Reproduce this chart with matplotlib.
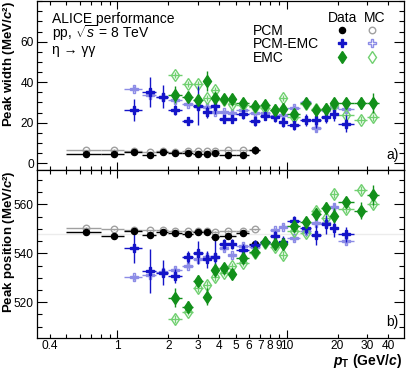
import numpy as np
import matplotlib
matplotlib.use("Agg")
import matplotlib.pyplot as plt
from matplotlib.ticker import MultipleLocator, NullFormatter

plt.rcParams['font.family'] = ['Liberation Sans', 'DejaVu Sans']
plt.rcParams['mathtext.fontset'] = 'custom'
plt.rcParams['mathtext.rm'] = 'Liberation Sans'
plt.rcParams['mathtext.it'] = 'Liberation Sans:italic'
plt.rcParams['mathtext.bf'] = 'Liberation Sans:bold'
plt.rcParams['mathtext.bfit'] = 'Liberation Sans:italic:bold'

# ---------------- data ----------------
pcm_edges = [0.5, 0.8, 1.1, 1.4, 1.7, 2.0, 2.4, 2.8, 3.2, 3.6, 4.0, 5.0, 6.0, 7.0]
pcm_width_data = [4.6, 4.75, 5.7, 4.1, 5.6, 4.9, 5.2, 4.75, 4.6, 4.9, 4.1, 4.1, 6.6]
pcm_width_data_err = [0.4, 0.4, 0.4, 0.4, 0.4, 0.4, 0.4, 0.4, 0.4, 0.4, 0.4, 0.5, 1.8]
pcm_width_mc = [6.6, 6.7, 6.0, 5.6, 6.0, 5.6, 5.9, 6.0, 6.0, 6.0, 6.6, 6.4, 6.5]
pcm_width_mc_err = [0.2] * 13
pcm_mass_data = [548.6, 547.2, 549.1, 547.6, 548.7, 548.4, 548.0, 548.6, 548.6, 546.5, 547.1, 548.4, 543.7]
pcm_mass_data_err = [0.4, 0.4, 0.4, 0.4, 0.4, 0.4, 0.4, 0.4, 0.4, 0.5, 0.5, 0.6, 1.5]
pcm_mass_mc = [550.5, 549.9, 549.4, 549.5, 549.4, 549.3, 549.1, 549.1, 549.0, 548.7, 549.3, 548.9, 549.8]
pcm_mass_mc_err = [0.2] * 13

pcmemc_edges = [1.1, 1.4, 1.7, 2.0, 2.4, 2.8, 3.2, 3.6, 4.0, 4.5, 5.0, 6.0, 7.0, 8.0, 9.0,
                10.0, 12.0, 14.0, 16.0, 18.0, 20.0, 25.0]
pcmemc_width_data = [26.2, 35.3, 32.8, 26.2, 20.9, 28.5, 25.3, 28.2, 21.7, 21.7, 24.1,
                     21.0, 23.3, 22.6, 20.5, 19.1, 21.2, 21.6, 22.7, 24.5, 19.6]
pcmemc_width_data_err = [5.5, 7.4, 5.7, 2.5, 2.0, 9.5, 3.0, 3.7, 2.0, 2.0, 2.0,
                         2.5, 2.0, 2.0, 2.5, 2.5, 3.0, 4.0, 3.0, 3.5, 4.0]
pcmemc_width_mc = [36.8, 33.5, 32.5, 31.4, 29.5, 28.3, 28.0, 25.5, 25.3, 25.0, 26.2,
                   24.9, 25.0, 23.5, 24.0, 27.4, 30.2, 17.3, 26.2, 27.8, 26.6]
pcmemc_width_mc_err = [1.2, 1.2, 1.2, 1.2, 1.2, 1.2, 1.2, 1.2, 1.2, 1.2, 1.2,
                       1.2, 1.2, 1.2, 1.2, 1.5, 1.5, 2.0, 1.5, 1.5, 1.5]
pcmemc_mass_data = [542.0, 532.9, 532.1, 530.7, 538.6, 540.3, 537.6, 538.6, 543.7, 543.7, 541.2,
                    543.3, 544.8, 547.2, 544.4, 553.2, 550.5, 547.5, 551.8, 550.5, 547.8]
pcmemc_mass_data_err = [6.0, 9.0, 5.0, 3.0, 2.5, 4.8, 3.5, 7.0, 2.0, 2.0, 2.5,
                        2.0, 2.0, 2.0, 2.5, 2.0, 2.5, 4.0, 4.0, 4.0, 3.0]
pcmemc_mass_mc = [530.2, 531.2, 532.4, 533.2, 535.0, 537.7, 538.6, 538.4, 542.0, 539.3, 543.1,
                  542.5, 544.1, 549.5, 550.9, 546.1, 549.3, 552.2, 552.2, 559.0, 545.2]
pcmemc_mass_mc_err = [1.0, 1.0, 1.0, 1.0, 1.0, 1.0, 1.0, 1.0, 1.0, 1.0, 1.0,
                      1.0, 1.0, 1.0, 1.0, 1.2, 1.2, 1.5, 1.5, 1.5, 1.5]

emc_edges = [2.0, 2.4, 2.8, 3.2, 3.6, 4.0, 4.5, 5.0, 6.0, 7.0, 8.0, 9.0, 10.0,
             12.0, 14.0, 16.0, 18.0, 20.0, 25.0, 30.0, 35.0]
emc_width_data = [33.9, 32.5, 31.1, 40.6, 32.0, 31.8, 31.6, 29.8, 28.2, 29.0, 26.4, 27.0,
                  24.1, 29.8, 26.2, 26.6, 29.8, 29.8, 29.8, 29.8]
emc_width_data_err = [4.0, 2.0, 2.0, 5.0, 1.5, 1.5, 1.5, 1.5, 1.5, 1.5, 1.5, 1.8,
                      2.0, 2.0, 2.0, 2.0, 2.0, 2.5, 3.0, 5.0]
emc_width_mc = [43.4, 39.0, 39.0, 32.0, 36.2, 31.0, 29.5, 29.0, 28.0, 27.5, 26.5, 32.3,
                23.0, 29.5, 27.0, 27.0, 29.0, 24.0, 21.6, 22.6]
emc_width_mc_err = [1.5] * 20
emc_mass_data = [521.9, 518.2, 528.7, 522.3, 533.2, 534.1, 531.4, 538.0, 540.4, 544.4, 543.7,
                 543.7, 551.2, 552.7, 556.1, 558.6, 555.4, 560.8, 557.4, 563.8]
emc_mass_data_err = [4.0, 2.5, 2.5, 3.5, 3.0, 1.5, 1.5, 1.5, 1.5, 1.5, 1.5, 1.5,
                     2.0, 2.0, 2.5, 2.5, 3.0, 1.5, 3.5, 4.0]
emc_mass_mc = [513.2, 516.2, 525.7, 527.1, 530.2, 532.1, 534.6, 536.2, 540.0, 544.1, 542.4,
               539.3, 549.3, 548.2, 557.4, 554.3, 564.2, 558.0, 565.9, 560.0]
emc_mass_mc_err = [1.5] * 20

pdg_mass = 547.86

x_major = [1, 10]
x_minor = [0.4, 0.5, 0.6, 0.7, 0.8, 0.9, 2, 3, 4, 5, 6, 7, 8, 9, 20, 30, 40]
x_minor_labels = ['0.4', '', '', '', '', '', '2', '3', '4', '5', '6', '7', '8', '9', '20', '30', '40']

# ---------------- styles ----------------
C_PCM, C_PCM_MC = 'black', '#a0a0a0'
C_PE, C_PE_MC = '#1414c8', '#8c8ce6'
C_EMC, C_EMC_MC = '#12901a', '#70d070'

fig = plt.figure(figsize=(4.07, 3.70), dpi=100)
ax1 = fig.add_axes([0.0897, 0.5405, 0.9029, 0.4565])
ax2 = fig.add_axes([0.0897, 0.0878, 0.9029, 0.4527])

MS_CIRC, MS_CROSS, MS_DIAM = 4.4, 5.6, 6.2


def draw(ax, edges, y, yerr, color, marker, ms, filled, lw=1.0, z=3):
    e = np.array(edges)
    c = 0.5 * (e[:-1] + e[1:])
    xerr = [c - e[:-1], e[1:] - c]
    ax.errorbar(c, y, xerr=xerr, yerr=yerr, fmt=marker, color=color,
                mfc=color if filled else 'none', mec=color, ms=ms, mew=1.0,
                elinewidth=lw, capsize=0, zorder=z)


def panel(ax, which):
    if which == 'w':
        sets = [(pcm_width_mc, pcm_width_mc_err, pcm_width_data, pcm_width_data_err),
                (pcmemc_width_mc, pcmemc_width_mc_err, pcmemc_width_data, pcmemc_width_data_err),
                (emc_width_mc, emc_width_mc_err, emc_width_data, emc_width_data_err)]
    else:
        sets = [(pcm_mass_mc, pcm_mass_mc_err, pcm_mass_data, pcm_mass_data_err),
                (pcmemc_mass_mc, pcmemc_mass_mc_err, pcmemc_mass_data, pcmemc_mass_data_err),
                (emc_mass_mc, emc_mass_mc_err, emc_mass_data, emc_mass_data_err)]
    edges = [pcm_edges, pcmemc_edges, emc_edges]
    mc_style = [(C_PCM_MC, 'o', MS_CIRC + 0.3), (C_PE_MC, 'P', MS_CROSS), (C_EMC_MC, 'd', MS_DIAM)]
    d_style = [(C_PCM, 'o', MS_CIRC), (C_PE, 'P', MS_CROSS), (C_EMC, 'd', MS_DIAM)]
    for i in range(3):
        mc, mce, d, de = sets[i]
        draw(ax, edges[i], mc, mce, mc_style[i][0], mc_style[i][1], mc_style[i][2], False, z=3)
    for i in range(3):
        mc, mce, d, de = sets[i]
        draw(ax, edges[i], d, de, d_style[i][0], d_style[i][1], d_style[i][2], True, z=4)


panel(ax1, 'w')
panel(ax2, 'm')
ax2.axhline(pdg_mass, color='#ececec', lw=1.0, zorder=1)

for ax in (ax1, ax2):
    ax.set_xscale('log')
    ax.set_xlim(0.333, 49.4)
    ax.set_xticks(x_major)
    ax.set_xticks(x_minor, minor=True)
    ax.tick_params(which='both', direction='in', top=True, right=True, labelsize=8.6,
                   width=0.8)
    ax.tick_params(axis='x', which='major', length=6.0, pad=2.0)
    ax.tick_params(axis='x', which='minor', length=3.2, pad=2.0)
    ax.tick_params(axis='y', which='major', length=7.5, pad=2.0)
    ax.tick_params(axis='y', which='minor', length=3.8)
    ax.yaxis.set_minor_locator(MultipleLocator(5))
    for s in ax.spines.values():
        s.set_linewidth(0.9)

ax1.set_ylim(-3.3, 80)
ax1.set_yticks([0, 20, 40, 60])
ax1.xaxis.set_major_formatter(NullFormatter())
ax1.xaxis.set_minor_formatter(NullFormatter())

ax2.set_ylim(505.6, 574)
ax2.set_yticks([520, 540, 560])
ax2.set_xticks(x_major, ['1', '10'])
ax2.set_xticks(x_minor, x_minor_labels, minor=True)

ax1.set_ylabel(r'Peak width (MeV/$\mathbfit{c}$²)', fontsize=9.5,
               fontweight='bold', loc='top')
ax2.set_ylabel(r'Peak position (MeV/$\mathbfit{c}$²)', fontsize=9.5,
               fontweight='bold', loc='top')
ax1.yaxis.set_label_coords(-0.054, 1.0)
ax2.yaxis.set_label_coords(-0.054, 1.0)

fig.text(402 / 407, 1 - 365.5 / 370, r'$\mathbfit{p}_{\mathbf{T}}$ (GeV/$\mathbfit{c}$)',
         fontsize=10, fontweight='bold', ha='right', va='baseline')

# annotations
ax1.text(0.042, 0.8716, 'ALICE performance', transform=ax1.transAxes, fontsize=10,
         va='baseline')
ax1.text(0.042, 0.781, r'pp, $\sqrt{s}$ = 8 TeV', transform=ax1.transAxes, fontsize=10,
         va='baseline')
ax1.text(0.042, 0.689, 'η → γγ', transform=ax1.transAxes, fontsize=10, va='baseline')

# legend block
ax1.text(0.834, 0.8775, 'Data', transform=ax1.transAxes, fontsize=10, ha='center',
         va='baseline')
ax1.text(0.921, 0.8775, 'MC', transform=ax1.transAxes, fontsize=10, ha='center',
         va='baseline')
leg_labels = ['PCM', 'PCM-EMC', 'EMC']
leg_label_y = [0.799, 0.72, 0.637]
leg_marker_y = [0.828, 0.753, 0.667]
leg_data = [(C_PCM, 'o', MS_CIRC), (C_PE, 'P', MS_CROSS), (C_EMC, 'd', MS_DIAM)]
leg_mc = [(C_PCM_MC, 'o', MS_CIRC + 0.3), (C_PE_MC, 'P', MS_CROSS), (C_EMC_MC, 'd', MS_DIAM)]
for i in range(3):
    ax1.text(0.588, leg_label_y[i], leg_labels[i], transform=ax1.transAxes, fontsize=10,
             va='baseline')
    ax1.plot([0.8305], [leg_marker_y[i]], leg_data[i][1], color=leg_data[i][0],
             ms=leg_data[i][2], transform=ax1.transAxes, clip_on=False)
    ax1.plot([0.9137], [leg_marker_y[i]], leg_mc[i][1], mfc='none', mec=leg_mc[i][0],
             ms=leg_mc[i][2], mew=1.0, transform=ax1.transAxes, clip_on=False)

ax1.text(0.985, 0.065, 'a)', transform=ax1.transAxes, fontsize=10, ha='right',
         va='baseline')
ax2.text(0.985, 0.0687, 'b)', transform=ax2.transAxes, fontsize=10, ha='right',
         va='baseline')

fig.savefig('out.png', dpi=100)
